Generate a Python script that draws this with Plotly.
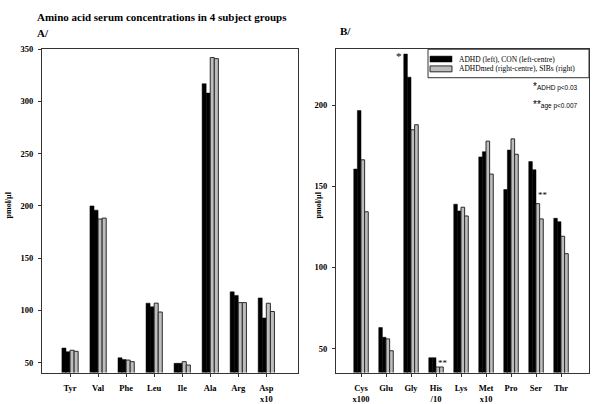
import plotly.graph_objects as go

W, H = 600, 404

# ---------------- data ----------------
cats_a = ["Tyr", "Val", "Phe", "Leu", "Ile", "Ala", "Arg", "Asp<br>x10"]
adhd_a    = [64, 200, 54.7, 107, 49.4, 317, 117.8, 112]
con_a     = [60.5, 196, 53, 103.5, 49.4, 308, 114.4, 92.8]
adhdmed_a = [61.9, 187.5, 52.5, 107, 51, 342, 107.5, 106.9]
sibs_a    = [60.9, 188.4, 51, 98.5, 47.8, 341, 107.5, 99]

cats_b = ["Cys<br>x100", "Glu", "Gly", "His<br>/10", "Lys", "Met<br>x10", "Pro", "Ser", "Thr"]
adhd_b    = [160.6, 63, 231.4, 44.4, 139, 168.1, 148, 165.2, 130.3]
con_b     = [196.6, 57, 217.2, 44.4, 134.8, 171.3, 172.3, 160.2, 128.2]
adhdmed_b = [166.3, 56, 184.8, 38.7, 137.1, 177.8, 179.2, 139.3, 119.2]
sibs_b    = [134.3, 48.7, 187.9, 38.7, 131.7, 157.5, 169.7, 129.9, 108.5]

yticks_a = [50, 100, 150, 200, 250, 300, 350]
yticks_b = [50, 100, 150, 200]

legend_labels = ["ADHD (left), CON (left-centre)", "ADHDmed (right-centre), SIBs (right)"]

# ---------------- styling ----------------
SERIF = "Liberation Serif, Times New Roman, serif"
SANS = "Liberation Sans, Arial, sans-serif"
BLACK = "#000000"
GREY = "#bdbdbd"
EDGE = "#2a2a2a"

def px(x):
    return x / W

def py(y):
    return 1 - y / H

fig = go.Figure()

series_styles = [
    dict(color=BLACK, line=dict(color=BLACK, width=0.5)),
    dict(color=BLACK, line=dict(color=BLACK, width=0.5)),
    dict(color=GREY, line=dict(color=EDGE, width=1)),
    dict(color=GREY, line=dict(color=EDGE, width=1)),
]
names = ["ADHD", "CON", "ADHDmed", "SIBs"]

xa = list(range(len(cats_a)))
xb = list(range(len(cats_b)))

for i, vals in enumerate([adhd_a, con_a, adhdmed_a, sibs_a]):
    fig.add_trace(go.Bar(x=xa, y=vals, name=names[i], marker=series_styles[i],
                         offsetgroup=str(i), xaxis="x", yaxis="y", showlegend=False))
for i, vals in enumerate([adhd_b, con_b, adhdmed_b, sibs_b]):
    fig.add_trace(go.Bar(x=xb, y=vals, name=names[i], marker=series_styles[i],
                         offsetgroup=str(i), xaxis="x2", yaxis="y2", showlegend=False))

tickfont = dict(family=SERIF, size=8.5, color="black", weight="bold")
axis_common = dict(showline=True, linecolor="#333", linewidth=1, mirror=True,
                   ticks="outside", ticklen=3, tickcolor="#333", showgrid=False,
                   zeroline=False, tickfont=tickfont)

fig.update_layout(
    width=W, height=H,
    margin=dict(l=0, r=0, t=0, b=0),
    paper_bgcolor="white", plot_bgcolor="white",
    barmode="group", bargap=0.42, bargroupgap=0,
    xaxis=dict(domain=[px(42), px(298)], range=[-1, 8.13], anchor="y",
               tickvals=xa, ticktext=cats_a, ticklabelstandoff=4, **axis_common),
    yaxis=dict(domain=[py(374), py(45)], range=[40.6, 350], anchor="x",
               tickvals=yticks_a, ticklabelstandoff=3, **axis_common),
    xaxis2=dict(domain=[px(336), px(589)], range=[-1, 9.12], anchor="y2",
                tickvals=xb, ticktext=cats_b, ticklabelstandoff=4, **axis_common),
    yaxis2=dict(domain=[py(374), py(45)], range=[35.3, 234.4], anchor="x2",
                tickvals=yticks_b, ticklabelstandoff=3, **axis_common),
)

ann = []
# titles
ann.append(dict(text="Amino acid serum concentrations in 4 subject groups", x=px(35), y=py(12),
                xref="paper", yref="paper", xanchor="left", yanchor="middle", showarrow=False,
                font=dict(family=SERIF, size=11, color="black", weight="bold")))
ann.append(dict(text="A/", x=px(35), y=py(28), xref="paper", yref="paper", xanchor="left",
                yanchor="middle", showarrow=False,
                font=dict(family=SERIF, size=11, color="black", weight="bold")))
ann.append(dict(text="B/", x=px(338), y=py(26), xref="paper", yref="paper", xanchor="left",
                yanchor="middle", showarrow=False,
                font=dict(family=SERIF, size=11, color="black", weight="bold")))
# y-axis titles
for xx in (8, 318):
    ann.append(dict(text="pmol/µl", x=px(xx), y=py(204), xref="paper", yref="paper",
                    xanchor="center", yanchor="middle", textangle=-90, showarrow=False,
                    font=dict(family=SERIF, size=8, color="black", weight="bold")))
# significance stars
ann.append(dict(text="*", x=2, y=adhd_b[2], xref="x2", yref="y2", xshift=-12, yshift=-2,
                showarrow=False, font=dict(family=SERIF, size=11, color="black")))
ann.append(dict(text="**", x=3, y=sibs_b[3], xref="x2", yref="y2", xshift=7, yshift=4,
                showarrow=False, font=dict(family=SERIF, size=9, color="black")))
ann.append(dict(text="**", x=7, y=adhdmed_b[7], xref="x2", yref="y2", xshift=7, yshift=9,
                showarrow=False, font=dict(family=SERIF, size=9, color="black")))
# notes
ann.append(dict(text="<span style='font-size:10px;color:#000'>*</span>ADHD p&lt;0.03",
                x=px(580), y=py(83),
                xref="paper", yref="paper", xanchor="right", yanchor="middle", showarrow=False,
                font=dict(family=SANS, size=6.5, color="black")))
ann.append(dict(text="<span style='font-size:10px;color:#000'>**</span>age p&lt;0.007",
                x=px(580), y=py(101),
                xref="paper", yref="paper", xanchor="right", yanchor="middle", showarrow=False,
                font=dict(family=SANS, size=6.5, color="black")))
# legend text
for k, yy in enumerate((55, 65)):
    ann.append(dict(text=legend_labels[k], x=px(457), y=py(yy), xref="paper", yref="paper",
                    xanchor="left", yanchor="middle", showarrow=False,
                    font=dict(family=SERIF, size=7.5, color="black")))
fig.update_layout(annotations=ann)

shapes = []
# legend box
shapes.append(dict(type="rect", xref="paper", yref="paper", x0=px(428), x1=px(589),
                   y0=py(74), y1=py(45), line=dict(color="#333", width=1), fillcolor="white",
                   layer="above"))
shapes.append(dict(type="rect", xref="paper", yref="paper", x0=px(430), x1=px(452),
                   y0=py(58), y1=py(52), line=dict(color="black", width=0.5), fillcolor="black",
                   layer="above"))
shapes.append(dict(type="rect", xref="paper", yref="paper", x0=px(430), x1=px(452),
                   y0=py(68), y1=py(62), line=dict(color=EDGE, width=1), fillcolor=GREY,
                   layer="above"))
fig.update_layout(shapes=shapes)

fig.write_html("out.html", config={"displayModeBar": False},
               post_script="document.body.style.margin='0';document.body.style.padding='0';"
                           "document.documentElement.style.overflow='hidden';")
